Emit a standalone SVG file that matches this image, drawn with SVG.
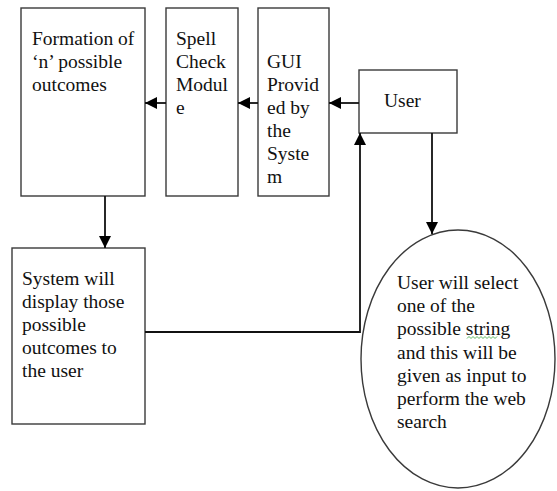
<svg xmlns="http://www.w3.org/2000/svg" width="557" height="491" viewBox="0 0 557 491">
  <style>
    .box { fill: #ffffff; stroke: #3a3a3a; stroke-width: 1.4; }
    .lbl { font-family: "Liberation Serif", "Times New Roman", serif; font-size: 19.5px; fill: #111111; }
    .wire { fill: none; stroke: #111111; stroke-width: 1.8; }
  </style>
  <defs>
    <marker id="head" viewBox="0 0 12 12" refX="12" refY="6" markerWidth="12" markerHeight="12" markerUnits="userSpaceOnUse" orient="auto">
      <path d="M0,0 L12,6 L0,12 Z" fill="#000000"/>
    </marker>
  </defs>
  <rect width="557" height="491" fill="#ffffff"/>

  <g id="formation">
    <rect class="box" x="21" y="8" width="124" height="188"/>
    <text class="lbl" x="32" y="45">Formation of</text>
    <text class="lbl" x="32" y="68">‘n’ possible</text>
    <text class="lbl" x="32" y="91">outcomes</text>
  </g>

  <g id="spell-check">
    <rect class="box" x="166" y="8" width="72" height="188"/>
    <text class="lbl" x="176" y="45">Spell</text>
    <text class="lbl" x="176" y="68">Check</text>
    <text class="lbl" x="176" y="91">Modul</text>
    <text class="lbl" x="176" y="114">e</text>
  </g>

  <g id="gui">
    <rect class="box" x="258" y="8" width="71" height="188"/>
    <text class="lbl" x="267" y="68">GUI</text>
    <text class="lbl" x="267" y="91">Provid</text>
    <text class="lbl" x="267" y="114">ed by</text>
    <text class="lbl" x="267" y="137">the</text>
    <text class="lbl" x="267" y="160">Syste</text>
    <text class="lbl" x="267" y="183">m</text>
  </g>

  <g id="user">
    <rect class="box" x="359" y="70" width="98" height="63"/>
    <text class="lbl" x="384" y="107">User</text>
  </g>

  <g id="display">
    <rect class="box" x="12" y="248" width="133" height="176"/>
    <text class="lbl" x="22" y="285">System will</text>
    <text class="lbl" x="22" y="308">display those</text>
    <text class="lbl" x="22" y="331">possible</text>
    <text class="lbl" x="22" y="354">outcomes to</text>
    <text class="lbl" x="22" y="377">the user</text>
  </g>

  <g id="select">
    <ellipse class="box" cx="458" cy="359" rx="97" ry="129"/>
    <text class="lbl" x="397" y="289">User will select</text>
    <text class="lbl" x="397" y="312">one of the</text>
    <text class="lbl" x="397" y="335">possible string</text>
    <text class="lbl" x="397" y="359">and this will be</text>
    <text class="lbl" x="397" y="382">given as input to</text>
    <text class="lbl" x="397" y="405">perform the web</text>
    <text class="lbl" x="397" y="428">search</text>
    <!-- spelling underline under "string" -->
    <path d="M467,338.5 l2,-2 l2,2 l2,-2 l2,2 l2,-2 l2,2 l2,-2 l2,2 l2,-2 l2,2 l2,-2 l2,2 l2,-2 l2,2 l2,-2" fill="none" stroke="#4caf50" stroke-width="0.9"/>
  </g>

  <g id="connectors">
    <line class="wire" x1="359" y1="103" x2="329" y2="103" marker-end="url(#head)"/>
    <line class="wire" x1="258" y1="103" x2="238" y2="103" marker-end="url(#head)"/>
    <line class="wire" x1="166" y1="103" x2="145" y2="103" marker-end="url(#head)"/>
    <line class="wire" x1="105" y1="196" x2="105" y2="248" marker-end="url(#head)"/>
    <line class="wire" x1="432" y1="133" x2="432" y2="234" marker-end="url(#head)"/>
    <polyline class="wire" points="145,332 360,332 360,133" marker-end="url(#head)"/>
  </g>
</svg>
